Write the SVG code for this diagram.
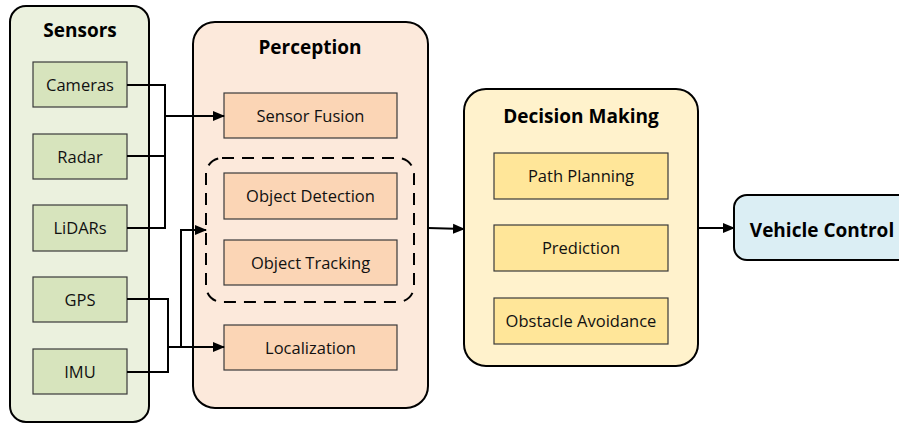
<svg xmlns="http://www.w3.org/2000/svg" width="899" height="424" viewBox="0 0 899 424">
  <defs>
    <marker id="arrow" markerWidth="12" markerHeight="12" refX="11" refY="6" orient="auto" markerUnits="userSpaceOnUse">
      <path d="M0,1 L12,6 L0,11 Z" fill="#000"/>
    </marker>
    <style>
      .panel { stroke: #000; stroke-width: 2; }
      .box { stroke: #3a3a3a; stroke-width: 1.2; }
      .title { font-family: "Open Sans", "Liberation Sans", sans-serif; font-weight: bold; font-size: 19px; fill: #000; text-anchor: middle; }
      .label { font-family: "Open Sans", "Liberation Sans", sans-serif; font-size: 16.5px; fill: #111; text-anchor: middle; }
      .wire { fill: none; stroke: #000; stroke-width: 2; }
    </style>
  </defs>
  <rect width="899" height="424" fill="#fff"/>

  <!-- Sensors panel -->
  <g id="sensors">
    <rect class="panel" x="10" y="6" width="139" height="416" rx="16" fill="#ebf1de"/>
    <text class="title" x="80" y="37">Sensors</text>
  </g>
  <g id="cameras"><rect class="box" x="33" y="62" width="94" height="45" fill="#d7e4bd"/><text class="label" x="80" y="91">Cameras</text></g>
  <g id="radar"><rect class="box" x="33" y="134" width="94" height="45" fill="#d7e4bd"/><text class="label" x="80" y="163">Radar</text></g>
  <g id="lidars"><rect class="box" x="33" y="205" width="94" height="46" fill="#d7e4bd"/><text class="label" x="80" y="234">LiDARs</text></g>
  <g id="gps"><rect class="box" x="33" y="277" width="94" height="45" fill="#d7e4bd"/><text class="label" x="80" y="306">GPS</text></g>
  <g id="imu"><rect class="box" x="33" y="349" width="94" height="45" fill="#d7e4bd"/><text class="label" x="80" y="378">IMU</text></g>

  <!-- Perception panel -->
  <g id="perception">
    <rect class="panel" x="193" y="22" width="235" height="386" rx="22" fill="#fce9db"/>
    <text class="title" x="310" y="54">Perception</text>
  </g>
  <g id="sensor-fusion"><rect class="box" x="224" y="93" width="173" height="45" fill="#fbd5b5"/><text class="label" x="310.5" y="122">Sensor Fusion</text></g>
  <g id="object-group">
    <rect x="206" y="158" width="208" height="144" rx="16" fill="none" stroke="#000" stroke-width="2" stroke-dasharray="12 8"/>
  </g>
  <g id="object-detection"><rect class="box" x="224" y="173" width="173" height="46" fill="#fbd5b5"/><text class="label" x="310.5" y="202">Object Detection</text></g>
  <g id="object-tracking"><rect class="box" x="224" y="240" width="173" height="45" fill="#fbd5b5"/><text class="label" x="310.5" y="269">Object Tracking</text></g>
  <g id="localization"><rect class="box" x="224" y="325" width="173" height="45" fill="#fbd5b5"/><text class="label" x="310.5" y="354">Localization</text></g>

  <!-- Decision Making panel -->
  <g id="decision-making">
    <rect class="panel" x="464" y="89" width="234" height="277" rx="22" fill="#fff2cc"/>
    <text class="title" x="581" y="123">Decision Making</text>
  </g>
  <g id="path-planning"><rect class="box" x="494" y="153" width="174" height="46" fill="#ffe699"/><text class="label" x="581" y="182">Path Planning</text></g>
  <g id="prediction"><rect class="box" x="494" y="225" width="174" height="46" fill="#ffe699"/><text class="label" x="581" y="254">Prediction</text></g>
  <g id="obstacle-avoidance"><rect class="box" x="494" y="298" width="174" height="46" fill="#ffe699"/><text class="label" x="581" y="327">Obstacle Avoidance</text></g>

  <!-- Vehicle Control -->
  <g id="vehicle-control">
    <rect class="panel" x="734" y="195" width="180" height="65" rx="13" fill="#dbeef4"/>
    <text class="title" x="822" y="237">Vehicle Control</text>
  </g>

  <!-- Connectors -->
  <g id="connectors">
    <polyline class="wire" points="127,85 165,85 165,228 127,228"/>
    <line class="wire" x1="127" y1="156" x2="165" y2="156"/>
    <line class="wire" x1="165" y1="116" x2="224" y2="116" marker-end="url(#arrow)"/>
    <polyline class="wire" points="127,299 168,299 168,372 127,372"/>
    <line class="wire" x1="168" y1="347" x2="224" y2="347" marker-end="url(#arrow)"/>
    <polyline class="wire" points="181,347 181,230 206,230" marker-end="url(#arrow)"/>
    <line class="wire" x1="428" y1="228" x2="464" y2="229" marker-end="url(#arrow)"/>
    <line class="wire" x1="698" y1="228" x2="734" y2="228" marker-end="url(#arrow)"/>
  </g>
</svg>
